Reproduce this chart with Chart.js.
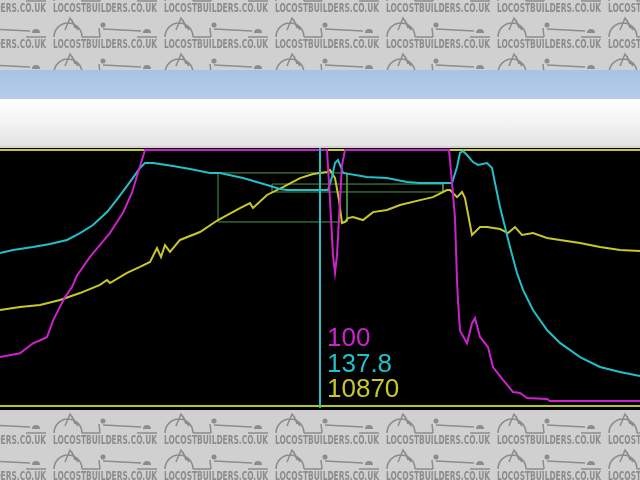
<!DOCTYPE html>
<html lang="en">
<head>
  <meta charset="UTF-8"/>
  <title>Logger trace</title>
  <script src="https://cdn.jsdelivr.net/npm/chart.js"></script>
  <style>
    body { margin: 0; width: 640px; height: 480px; overflow: hidden; position: relative; background: #d0d0d0; }
    #bg { position: absolute; left: 0; top: 0; }
    .titlebar { position: absolute; left: 0; top: 70px; width: 640px; height: 29px;
      background: linear-gradient(#a6c3e3, #b4cde9); }
    .toolbar { position: absolute; left: 0; top: 99px; width: 640px; height: 47px;
      background: linear-gradient(#ffffff, #f6f6f6 40%, #e4e4e4); border-bottom: 2px solid #d2d2d2; }
    .plot-bg { position: absolute; left: 0; top: 148px; width: 640px; height: 260px; background: #000; }
    #trace { position: absolute; left: 0; top: 146px; }
  </style>
</head>
<body>
  <canvas id="bg" width="640" height="480"></canvas>
  <div class="titlebar"></div>
  <div class="toolbar"></div>
  <div class="plot-bg"></div>
  <canvas id="trace" width="640" height="264"></canvas>

  <script>
    // throttle (%), magenta
    const timeThrottle = [0,20,33,43,47,53,58,65,72,77,90,110,123,132,138,142,145,327,330,333,335,337,340,342,345,449,452,455,457,458,460,467,472,475,480,488,493,503,513,520,527,547,550,640];
    const throttle = [17.5,19,23,24.7,25.5,32,36,41.4,45.4,50,57.4,67,75,83,91,96,100,100,80,58,51,58,80,94,100,100,87,73,48,40,28,23,31,33,25.5,21.5,13.5,8.4,3.6,3.2,1.2,0.8,0,0];

    // speed, cyan
    const timeSpeed = [0,13,33,50,67,80,93,107,118,130,140,145,153,173,190,210,220,243,267,280,287,328,332,335,338,342,343,367,387,407,420,452,453,457,460,463,467,473,478,487,492,495,500,505,510,517,523,533,547,560,580,600,620,640];
    const speed = [95.9,97.8,99.6,101.5,104,108.3,113.3,121.4,130.1,140.1,148.8,151.9,151.9,150.1,148.2,145.7,145.7,142.6,138.2,135.7,135.1,135.1,143.2,151.9,153.8,147.6,145.7,143.2,142.6,140.1,139.5,139.5,141.3,149.4,158.2,159.4,156.9,152.5,150.7,151.9,148.8,139.5,124.5,112.1,99.6,83.4,72.9,60.4,47.9,39.9,31.1,24.9,21.8,19.3];

    // engine rpm, yellow
    const timeRpm = [0,20,40,60,80,100,107,110,127,140,150,157,161,165,170,180,200,218,240,250,253,267,283,300,313,327,330,335,339,342,345,348,353,363,373,387,400,420,433,447,450,457,462,465,472,480,487,500,508,515,522,533,547,560,580,600,620,640];
    const rpm = [4530,4670,4760,4995,5320,5700,5930,5790,6260,6540,6770,7420,7000,7560,7240,7800,8170,8730,9290,9520,9290,9900,10270,10690,10880,10970,11070,10690,9660,8590,8640,8820,8870,8730,9100,9200,9430,9660,9800,10130,10130,9800,10040,9760,8030,8400,8400,8310,8120,8400,8030,8120,7890,7800,7660,7470,7330,7280];

    // zoom selection boxes (time from/to, rpm top/bottom)
    const boxTime = [[218, 347], [272, 443]];
    const boxRpm = [[10930, 8640], [10410, 10040]];

    const cursorTime = 320;
    const readout = ['100', '137.8', '10870'];

    const MAGENTA = '#cc22cc', CYAN = '#22c0c8', YELLOW = '#c8c828', GREEN = '#4c9a4c';

    // watermark background
    const g = document.getElementById('bg').getContext('2d');
    function drawCar(x, y) {
      g.strokeStyle = '#8c8c8c';
      g.lineWidth = 1.5;
      g.beginPath();
      g.arc(x + 15, y + 1, 14, Math.PI, 2 * Math.PI);
      g.moveTo(x + 12, y - 6); g.lineTo(x + 17, y - 18); g.lineTo(x + 25, y - 6);
      g.moveTo(x + 19, y - 16); g.lineTo(x + 22, y - 8);
      g.moveTo(x + 29, y + 1); g.lineTo(x + 47, y + 1);
      g.moveTo(x + 47, y + 1); g.lineTo(x + 46, y - 8);
      g.moveTo(x + 50, y - 7); g.lineTo(x + 88, y - 5);
      g.moveTo(x + 84, y + 1); g.lineTo(x + 104, y + 1);
      g.stroke();
      g.fillStyle = '#8c8c8c';
      g.beginPath(); g.arc(x + 50, y - 11, 2.5, 0, 2 * Math.PI); g.fill();
      g.beginPath(); g.arc(x + 94, y - 3, 4, Math.PI, 2 * Math.PI); g.fill();
    }
    for (let row = 0; row < 14; row++) {
      const base = 12 + 36 * row;
      for (let col = -1; col < 6; col++) {
        const x0 = 53 + 111 * col;
        drawCar(x0, base - 12);
        g.fillStyle = '#8c8c8c';
        g.font = 'bold 12px "Liberation Sans Narrow", "DejaVu Sans Condensed", sans-serif';
        g.fillText('LOCOSTBUILDERS.CO.UK', x0, base, 104);
      }
    }

    const pts = (xs, ys) => xs.map((x, i) => ({ x, y: ys[i] }));
    const boxes = boxTime.map((t, i) => ({
      data: pts([t[0], t[1], t[1], t[0], t[0]],
                [boxRpm[i][0], boxRpm[i][0], boxRpm[i][1], boxRpm[i][1], boxRpm[i][0]]),
      yAxisID: 'yRpm', borderColor: GREEN, borderWidth: 1, order: 5
    }));

    const overlay = {
      id: 'overlay',
      beforeDatasetsDraw(chart) {
        const { ctx, chartArea: a } = chart;
        ctx.save();
        ctx.fillStyle = YELLOW;
        ctx.fillRect(0, a.top - 1, 640, 2);
        ctx.fillStyle = '#b8c810';
        ctx.fillRect(0, a.bottom - 2, 640, 2);
        ctx.restore();
      },
      afterDatasetsDraw(chart) {
        const { ctx, chartArea: a } = chart;
        const cx = chart.scales.x.getPixelForValue(cursorTime);
        ctx.save();
        ctx.fillStyle = CYAN;
        ctx.fillRect(cx - 1, a.top - 2, 2, a.bottom - a.top + 3);
        ctx.font = '26px "Liberation Sans", Arial, sans-serif';
        [MAGENTA, CYAN, YELLOW].forEach((c, i) => {
          ctx.fillStyle = c;
          ctx.fillText(readout[i], cx + 7, a.top + 196 + i * 25.5);
        });
        ctx.restore();
      }
    };

    new Chart(document.getElementById('trace'), {
      type: 'line',
      data: {
        datasets: [
          { data: pts(timeThrottle, throttle), yAxisID: 'yThr', borderColor: MAGENTA, order: 0 },
          { data: pts(timeSpeed, speed), yAxisID: 'ySpd', borderColor: CYAN, order: 1 },
          { data: pts(timeRpm, rpm), yAxisID: 'yRpm', borderColor: YELLOW, order: 2 },
          ...boxes
        ]
      },
      options: {
        responsive: false,
        animation: false,
        layout: { padding: { top: 4, bottom: 3, left: 0, right: 0 } },
        elements: {
          point: { radius: 0 },
          line: { borderWidth: 2, tension: 0, fill: false }
        },
        datasets: { line: { clip: false } },
        plugins: { legend: { display: false }, tooltip: { enabled: false } },
        scales: {
          x: { type: 'linear', min: 0, max: 640, display: false },
          yThr: { min: -2.4, max: 100, display: false },
          ySpd: { min: 0, max: 160, display: false },
          yRpm: { min: 0, max: 12000, display: false }
        }
      },
      plugins: [overlay]
    });
  </script>
</body>
</html>
